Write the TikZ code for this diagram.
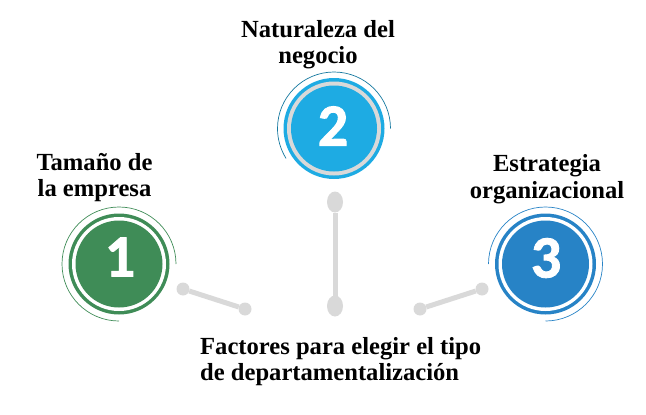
\documentclass[tikz,border=0pt]{standalone}
\usepackage{fontspec}
\setmainfont{Liberation Serif}
\newfontfamily\numfont[BoldFeatures={FakeBold=1.5}]{Carlito}
\definecolor{cgreen}{HTML}{3F8C57}
\definecolor{cblue}{HTML}{1EABE3}
\definecolor{cdeep}{HTML}{2783C6}
\definecolor{cgray}{HTML}{D9D9D9}
\usetikzlibrary{shapes.geometric}
\tikzset{
  x=1pt,y=1pt,
  disc/.style={circle,minimum size=#1,inner sep=0pt,outer sep=0pt},
  numlabel/.style={font=\numfont\fontsize{60}{60}\selectfont\bfseries,text=white},
  title/.style={font=\fontsize{24.6}{26.5}\selectfont\bfseries,align=center,text=black,inner sep=0pt},
  dotA/.style={circle,fill=cgray,minimum size=13pt,inner sep=0pt,outer sep=0pt},
  dotB/.style={ellipse,fill=cgray,minimum width=16pt,minimum height=21pt,inner sep=0pt,outer sep=0pt},
  conn/.style={draw=cgray,line width=5pt},
  thinarc/.style={line width=0.7pt}
}
\begin{document}
\begin{tikzpicture}
\useasboundingbox (0,0) rectangle (646,-415);
% connectors
\node[dotA] (a1) at (183,-289) {};
\node[dotA] (a2) at (245,-309) {};
\draw[conn] (a1) -- (a2);
\node[dotB] (b1) at (335,-202) {};
\node[dotB] (b2) at (335,-306) {};
\draw[conn] (b1) -- (b2);
\node[dotA] (c1) at (482,-289) {};
\node[dotA] (c2) at (420,-309) {};
\draw[conn] (c1) -- (c2);
% circle 1
\node[disc=101pt,fill=cgreen] (o1) at (119,-264) {};
\node[disc=94pt,fill=white] (r1) at (119,-264) {};
\node[disc=87pt,fill=cgreen] (n1) at (119,-264) {};
\node[numlabel] at (120,-257) {1};
\draw[cgreen,thinarc] (119,-264) ++(0:57) arc[start angle=0,end angle=270,radius=57];
% circle 2
\node[disc=101pt,fill=cblue] (o2) at (334,-128.5) {};
\node[disc=94pt,fill=cgray] (r2) at (334,-128.5) {};
\node[disc=86pt,fill=cblue] (n2) at (334,-128.5) {};
\node[numlabel] at (333,-126) {2};
\draw[cblue!70!black,thinarc] (334,-128.5) ++(0:56.5) arc[start angle=0,end angle=212,radius=56.5];
% circle 3
\node[disc=101pt,fill=cdeep] (o3) at (545.5,-264) {};
\node[disc=94pt,fill=white] (r3) at (545.5,-264) {};
\node[disc=87pt,fill=cdeep] (n3) at (545.5,-264) {};
\node[numlabel] at (546,-258) {3};
\draw[cdeep,thinarc] (545.5,-264) ++(-90:57) arc[start angle=-90,end angle=180,radius=57];
% labels
\node[title] (t1) at (94.5,-177.5) {Tamaño de\\la empresa};
\node[title] (t2) at (318,-44.5) {Naturaleza del\\negocio};
\node[title] (t3) at (547,-179) {Estrategia\\organizacional};
\node[title,align=left,anchor=west] (t4) at (200,-361.5) {Factores para elegir el tipo\\de departamentalización};
\end{tikzpicture}
\end{document}
